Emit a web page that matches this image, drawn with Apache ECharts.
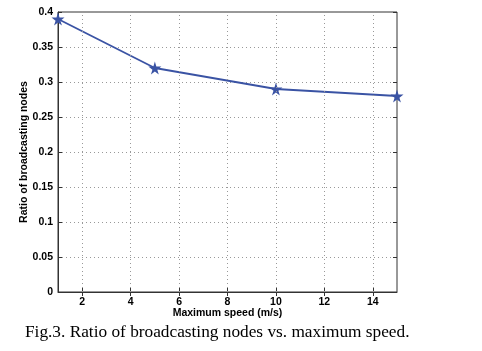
<!DOCTYPE html>
<html>
<head>
<meta charset="utf-8">
<script src="https://cdn.jsdelivr.net/npm/echarts@6/dist/echarts.min.js"></script>
<style>
  html, body { margin: 0; padding: 0; background: #fff; }
  #chart { width: 482px; height: 351px; }
</style>
</head>
<body>
<div id="chart"></div>
<script>
const speeds = [1, 5, 10, 15]
const ratios = [0.39, 0.32, 0.29, 0.28]
const xTicks = [2, 4, 6, 8, 10, 12, 14]

const star = 'path://M50,0 L61,35 L98,35 L68,57 L79,91 L50,70 L21,91 L32,57 L2,35 L39,35 Z'

const chart = echarts.init(document.getElementById('chart'), null, { renderer: 'canvas' })

const sans = 'Arial, Liberation Sans, sans-serif'
const tickFont = { fontFamily: sans, fontSize: 10.5, fontWeight: 'bold', color: '#000' }
const nameFont = { fontFamily: sans, fontSize: 10.5, fontWeight: 'bold', color: '#000' }
const grid = { show: true, lineStyle: { type: [1, 3], color: '#999', width: 1 } }

chart.setOption({
  animation: false,
  backgroundColor: '#fff',
  grid: { left: 58, top: 12, right: 85, bottom: 59, show: true, borderColor: '#333', borderWidth: 1 },
  title: {
    text: 'Fig.3. Ratio of broadcasting nodes vs. maximum speed.',
    left: 20, top: 319,
    textStyle: { fontFamily: 'Liberation Serif, Times New Roman, serif', fontSize: 17.3, fontWeight: 'normal', color: '#000' }
  },
  xAxis: [{
    type: 'value', min: 1, max: 15, interval: 1,
    name: 'Maximum speed (m/s)', nameLocation: 'middle', nameGap: 16, nameMoveOverlap: false,
    nameTextStyle: nameFont,
    axisLine: { lineStyle: { color: '#333' } },
    axisTick: { inside: true, length: 4, lineStyle: { color: '#333' }, customValues: xTicks },
    axisLabel: Object.assign({ margin: 5, customValues: xTicks }, tickFont),
    splitLine: { show: false }
  }, {
    type: 'value', min: 1, max: 15, position: 'top',
    axisLine: { show: false }, axisLabel: { show: false },
    axisTick: { inside: true, length: 4, lineStyle: { color: '#333' }, customValues: xTicks },
    splitLine: { show: false }
  }],
  yAxis: [{
    type: 'value', min: 0, max: 0.4, interval: 0.05,
    name: 'Ratio of broadcasting nodes', nameLocation: 'middle', nameGap: 28, nameMoveOverlap: false,
    nameTextStyle: nameFont,
    axisLine: { show: true, lineStyle: { color: '#333' } },
    axisTick: { show: true, inside: true, length: 4, lineStyle: { color: '#333' } },
    axisLabel: Object.assign({ margin: 5, formatter: v => String(+v.toFixed(2)) }, tickFont),
    splitLine: grid
  }, {
    type: 'value', min: 0, max: 0.4, interval: 0.05, position: 'right',
    axisLine: { show: false }, axisLabel: { show: false },
    axisTick: { show: true, inside: true, length: 4, lineStyle: { color: '#333' } },
    splitLine: { show: false }
  }],
  series: [{
    type: 'line',
    data: speeds.map((s, i) => [s, ratios[i]]),
    symbol: star, symbolSize: 13,
    lineStyle: { color: '#3a53a4', width: 1.8 },
    itemStyle: { color: '#3a53a4' },
    clip: false,
    z: 3
  }, {
    // vertical grid lines at x ticks
    type: 'line', data: [], xAxisIndex: 0,
    markLine: {
      silent: true, symbol: 'none', label: { show: false },
      lineStyle: { type: [1, 3], color: '#999', width: 1 },
      data: xTicks.map(v => ({ xAxis: v }))
    }
  }]
})
</script>
</body>
</html>
